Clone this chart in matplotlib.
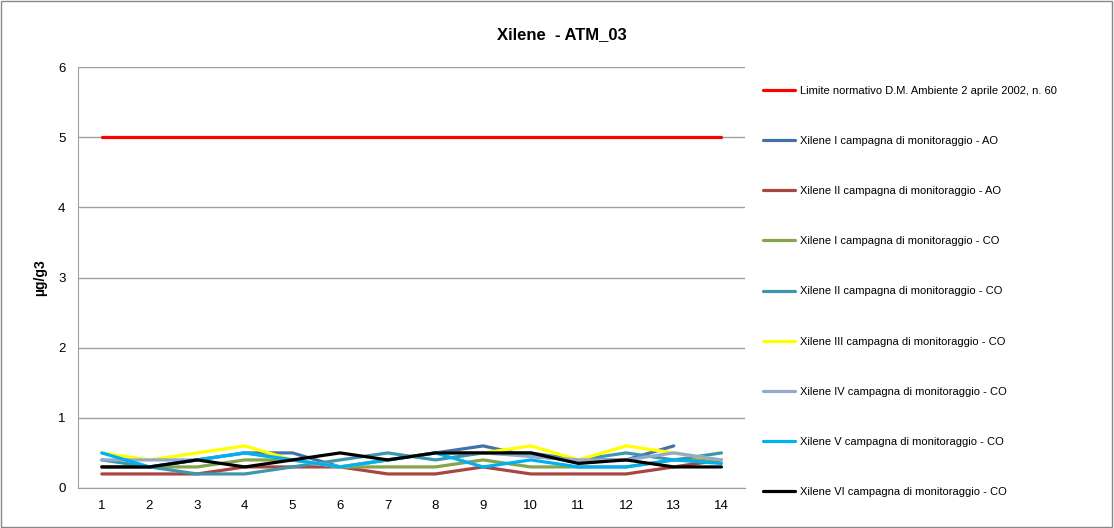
import matplotlib.pyplot as plt
import numpy as np
from matplotlib.patches import Rectangle

# punti di campionamento
punti = list(range(1, 15))

limite = [5] * 14
ao_1 = [0.3, 0.3, 0.4, 0.5, 0.5, 0.3, 0.4, 0.5, 0.6, 0.45, 0.4, 0.4, 0.6, np.nan]
ao_2 = [0.2, 0.2, 0.2, 0.3, 0.3, 0.3, 0.2, 0.2, 0.3, 0.2, 0.2, 0.2, 0.3, 0.4]
co_1 = [0.3, 0.3, 0.3, 0.4, 0.4, 0.3, 0.3, 0.3, 0.4, 0.3, 0.3, 0.3, 0.4, 0.4]
co_2 = [0.4, 0.3, 0.2, 0.2, 0.3, 0.4, 0.5, 0.4, 0.5, 0.5, 0.4, 0.5, 0.4, 0.5]
co_3 = [0.5, 0.4, 0.5, 0.6, 0.4, 0.3, 0.4, 0.5, 0.5, 0.6, 0.4, 0.6, 0.5, 0.4]
co_4 = [0.4, 0.4, 0.4, 0.5, 0.4, 0.3, 0.4, 0.5, 0.5, 0.45, 0.4, 0.4, 0.5, 0.4]
co_5 = [0.5, 0.3, 0.4, 0.5, 0.4, 0.3, 0.4, 0.5, 0.3, 0.4, 0.3, 0.3, 0.4, 0.35]
co_6 = [0.3, 0.3, 0.4, 0.3, 0.4, 0.5, 0.4, 0.5, 0.5, 0.5, 0.35, 0.4, 0.3, 0.3]

serie = [
    (limite, '#FF0000', 'Limite normativo D.M. Ambiente 2 aprile 2002, n. 60'),
    (ao_1, '#4472A8', 'Xilene I campagna di monitoraggio - AO'),
    (ao_2, '#A94643', 'Xilene II campagna di monitoraggio - AO'),
    (co_1, '#86A44A', 'Xilene I campagna di monitoraggio - CO'),
    (co_2, '#3D96AE', 'Xilene II campagna di monitoraggio - CO'),
    (co_3, '#FFFF00', 'Xilene III campagna di monitoraggio - CO'),
    (co_4, '#93A9CF', 'Xilene IV campagna di monitoraggio - CO'),
    (co_5, '#00B0F0', 'Xilene V campagna di monitoraggio - CO'),
    (co_6, '#000000', 'Xilene VI campagna di monitoraggio - CO'),
]

plt.rcParams['font.family'] = ['Liberation Sans', 'DejaVu Sans']

fig = plt.figure(figsize=(11.14, 5.28), dpi=100)
ax = fig.add_axes([0.070, 0.0758, 0.599, 0.797])

for valori, colore, nome in serie:
    ax.plot(punti, valori, color=colore, lw=2.3, label=nome, solid_capstyle='round')

ax.set_xlim(0.5, 14.5)
ax.set_ylim(0, 6)
ax.set_xticks(punti)
ax.set_yticks(range(0, 7))
ax.tick_params(axis='both', labelsize=9.5, length=0, pad=9)
ax.yaxis.grid(True, color='#A0A0A0', lw=1)
ax.set_axisbelow(True)
for s in ['top', 'right']:
    ax.spines[s].set_visible(False)
for s in ['left', 'bottom']:
    ax.spines[s].set_color('#A0A0A0')

ax.set_ylabel('µg/g3', fontsize=10, fontweight='bold', labelpad=8)
fig.text(0.504, 0.935, 'Xilene  - ATM_03', ha='center', va='center',
         fontsize=12, fontweight='bold')

fig.legend(loc='upper left', bbox_to_anchor=(0.676, 0.857), frameon=False,
           fontsize=8, labelspacing=3.62, handlelength=2.9, handletextpad=0.4)

fig.patches.append(Rectangle((0.0005, 0.001), 0.998, 0.997, transform=fig.transFigure,
                             fill=False, edgecolor='#888888', lw=1))

fig.savefig('out.png', dpi=100)
